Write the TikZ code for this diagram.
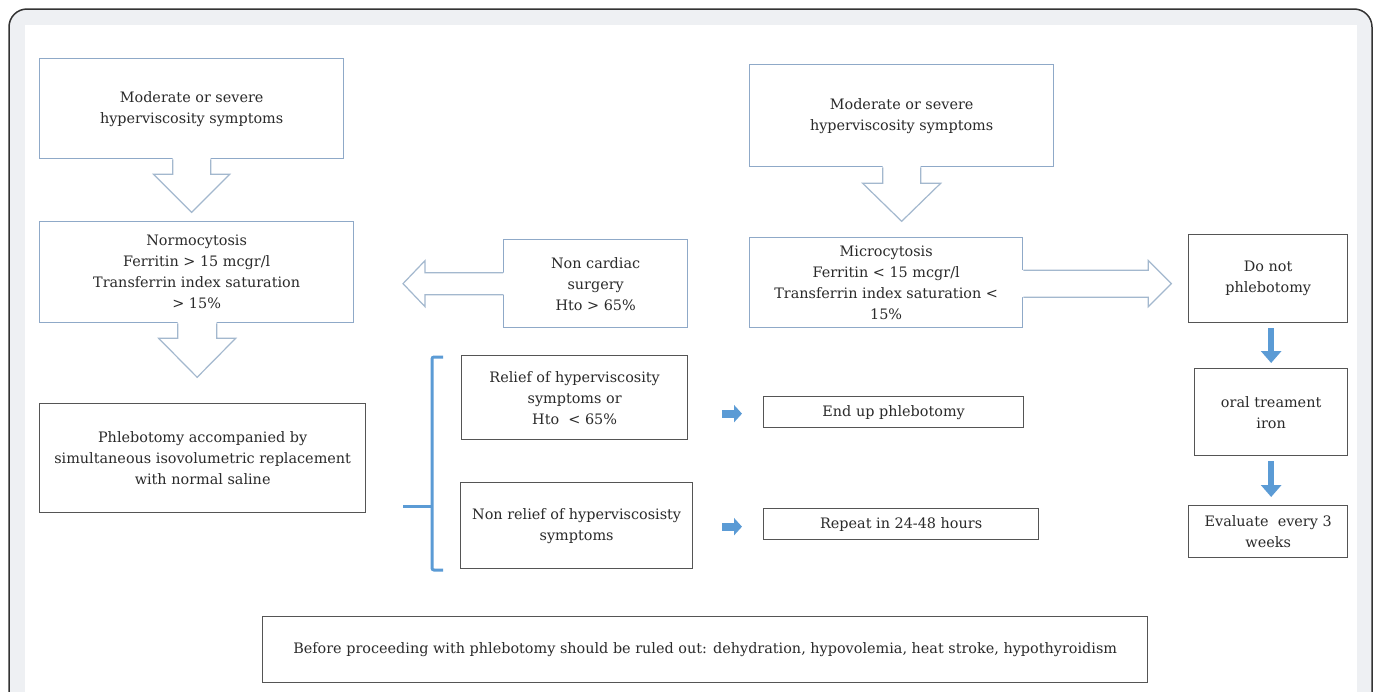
\documentclass[tikz,border=0pt]{standalone}
\usepackage{fontspec}
\setmainfont{DejaVu Serif}
\usetikzlibrary{arrows.meta,calc}
\definecolor{bluebd}{HTML}{8FA9C8}
\definecolor{arrbd}{HTML}{A3B8CE}
\definecolor{darkbd}{HTML}{555555}
\definecolor{brightblue}{HTML}{5B9BD5}
\definecolor{band}{HTML}{EEF0F3}
\definecolor{txt}{HTML}{2A2A2A}
\newcommand\hollowdown[5]{%
  \begin{scope}[shift={(#1)}]
    \fill[white] (-#2,-1.5) -- (-#2,#3) -- (-#4,#3) -- (0,#3+#5) -- (#4,#3) -- (#2,#3) -- (#2,-1.5) -- cycle;
    \draw[arrbd, line width=1.2pt, line join=miter] (-#2,0) -- (-#2,#3) -- (-#4,#3) -- (0,#3+#5) -- (#4,#3) -- (#2,#3) -- (#2,0);
  \end{scope}}
\newcommand\hollowside[7]{% anchor, xscale, yoffset, sw, sl, hw, hl
  \begin{scope}[shift={(#1)}, xscale=#2]
    \fill[white] (-1.5,#3-#4) -- (#5,#3-#4) -- (#5,-#6) -- (#5+#7,0) -- (#5,#6) -- (#5,#3+#4) -- (-1.5,#3+#4) -- cycle;
    \draw[arrbd, line width=1.2pt, line join=miter] (0,#3-#4) -- (#5,#3-#4) -- (#5,-#6) -- (#5+#7,0) -- (#5,#6) -- (#5,#3+#4) -- (0,#3+#4);
  \end{scope}}
\begin{document}
\begin{tikzpicture}[x=1pt,y=-1pt,
  box/.style={draw, line width=1.3pt, inner sep=0pt, anchor=north west, align=center,
    text=txt, font=\fontsize{14.4}{21}\selectfont},
  bluebox/.style={box, draw=bluebd},
  greybox/.style={box, draw=darkbd},
  bluearrow/.style={brightblue, line width=6pt, -{Triangle[width=20pt,length=12pt]}},
  bracket/.style={brightblue, line width=3pt, rounded corners=2pt}]
\useasboundingbox (0,0) rectangle (1378,691);
\clip (0,0) rectangle (1378,691);
% frame
\draw[fill=band, draw=black!80, line width=1.5pt, rounded corners=18pt] (9,9) rectangle (1372,740);
\fill[white] (25,25) rectangle (1357,740);

% nodes
\node[bluebox, minimum width=304pt, minimum height=100pt] (A) at (39,58) {Moderate or severe\\hyperviscosity symptoms};
\node[bluebox, minimum width=314pt, minimum height=101pt] (B) at (39,221) {Normocytosis\\Ferritin > 15 mcgr/l\\Transferrin index saturation\\> 15\%};
\node[greybox, minimum width=326pt, minimum height=109pt] (C) at (39,403) {Phlebotomy accompanied by\\simultaneous isovolumetric replacement\\with normal saline};
\node[bluebox, minimum width=184pt, minimum height=88pt] (NC) at (503,239) {Non cardiac\\surgery\\Hto > 65\%};
\node[bluebox, minimum width=304pt, minimum height=102pt] (RA) at (749,64) {Moderate or severe\\hyperviscosity symptoms};
\node[bluebox, minimum width=273pt, minimum height=90pt] (MC) at (749,237) {Microcytosis\\Ferritin < 15 mcgr/l\\Transferrin index saturation <\\15\%};
\node[greybox, minimum width=159pt, minimum height=88pt] (DN) at (1188,234) {Do not\\phlebotomy};
\node[greybox, minimum width=153pt, minimum height=87pt] (OR) at (1194,368) {oral treament\\iron};
\node[greybox, minimum width=159pt, minimum height=52pt] (EV) at (1188,505) {Evaluate\ \ every 3\\weeks};
\node[greybox, minimum width=226pt, minimum height=84pt] (RL) at (461,355) {Relief of hyperviscosity\\symptoms or\\Hto\ \ < 65\%};
\node[greybox, minimum width=232pt, minimum height=86pt] (NR) at (460,482) {Non relief of hyperviscosisty\\symptoms};
\node[greybox, minimum width=260pt, minimum height=31pt] (EU) at (763,396) {End up phlebotomy};
\node[greybox, minimum width=275pt, minimum height=31pt] (RP) at (763,508) {Repeat in 24-48 hours};
\node[greybox, minimum width=885pt, minimum height=66pt] (BT) at (262,616) {Before proceeding with phlebotomy should be ruled out: dehydration, hypovolemia, heat stroke, hypothyroidism};

% hollow arrows
\hollowdown{A.south}{19}{15}{38}{38}
\hollowdown{$(B.south)+(0.5,0)$}{19.5}{15}{38.5}{39}
\hollowdown{RA.south}{19}{16}{39}{38}
\hollowside{$(NC.west)$}{-1}{0}{11}{78}{23}{22}
\hollowside{$(MC.east)+(0,1)$}{1}{0}{13.5}{125}{23}{23}

% blue arrows
\draw[bluearrow] ($(OR.north |- DN.south)+(0,5)$) -- ($(OR.north)+(0,-5)$);
\draw[bluearrow] ($(OR.south)+(0,5)$) -- ($(OR.south |- EV.north)+(0,-8)$);
\draw[brightblue, line width=8pt, -{Triangle[width=17pt,length=8pt]}] ($(EU.west)+(-41,1.5)$) -- ($(EU.west)+(-21,1.5)$);
\draw[brightblue, line width=8pt, -{Triangle[width=17pt,length=8pt]}] ($(RP.west)+(-41,2.5)$) -- ($(RP.west)+(-21,2.5)$);

% bracket
\coordinate (bt) at (443,357);
\coordinate (bb) at (443,570);
\coordinate (bm) at (432,506);
\coordinate (bl) at (403,506);
\draw[bracket] (bt) -- (bt -| bm) -- (bb -| bm) -- (bb);
\draw[bracket] (bm) -- (bl);
\end{tikzpicture}
\end{document}
